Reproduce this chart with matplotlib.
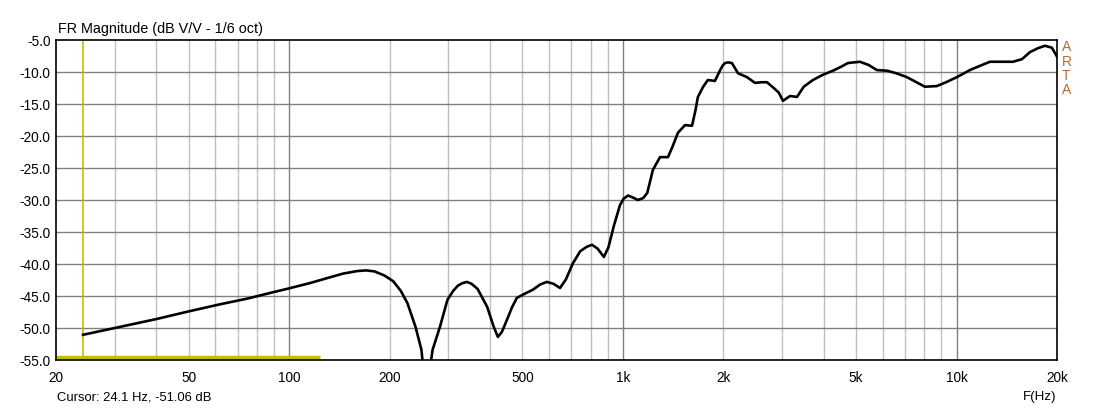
import matplotlib
matplotlib.use("Agg")
import matplotlib.pyplot as plt

# ---- data ----
freq_hz = [24.1, 30, 40, 50, 62, 75, 88, 100, 115, 130, 145, 160, 170, 180, 193, 205, 216,
           226, 239, 249, 253, 257, 262, 269, 283, 298, 310, 320, 330, 341, 352, 367, 392,
           410, 422, 434, 449, 465, 481, 510, 538, 565, 592, 620, 648, 675, 708, 745, 780,
           808, 840, 877, 905, 940, 980, 1005, 1036, 1070, 1109, 1150, 1183, 1230, 1292,
           1365, 1410, 1462, 1535, 1611, 1650, 1678, 1740, 1798, 1887, 1957, 1990, 2023,
           2070, 2122, 2213, 2354, 2488, 2600, 2704, 2832, 2930, 3018, 3170, 3324, 3484,
           3712, 3952, 4259, 4500, 4725, 5134, 5450, 5770, 6193, 6600, 7097, 8038, 8729,
           9300, 10024, 10965, 11800, 12594, 14760, 15700, 16590, 17500, 18400, 19300, 20000]
mag_db = [-51.06, -50.0, -48.6, -47.4, -46.3, -45.4, -44.5, -43.8, -43.0, -42.2, -41.5,
          -41.1, -41.0, -41.15, -41.8, -42.7, -44.2, -46.1, -49.8, -53.4, -57.0, -62.0, -57.5,
          -53.4, -49.8, -45.6, -44.2, -43.4, -43.0, -42.8, -43.1, -43.9, -46.7, -49.8, -51.4,
          -50.6, -48.75, -46.8, -45.3, -44.6, -44.0, -43.2, -42.8, -43.1, -43.75, -42.4,
          -39.9, -38.0, -37.3, -37.0, -37.6, -38.9, -37.4, -34.0, -30.8, -29.8, -29.3, -29.6,
          -30.0, -29.7, -28.9, -25.3, -23.3, -23.3, -21.6, -19.5, -18.3, -18.4, -16.0, -13.9,
          -12.3, -11.25, -11.4, -9.7, -9.0, -8.6, -8.5, -8.6, -10.2, -10.8, -11.7, -11.6,
          -11.6, -12.5, -13.2, -14.5, -13.75, -13.9, -12.3, -11.25, -10.5, -9.8, -9.2, -8.6,
          -8.4, -8.9, -9.7, -9.8, -10.2, -10.8, -12.3, -12.2, -11.6, -10.8, -9.7, -9.0, -8.4,
          -8.4, -8.0, -6.9, -6.3, -5.9, -6.2, -7.6]

x_ticks = [20, 50, 100, 200, 500, 1000, 2000, 5000, 10000, 20000]
x_tick_labels = ["20", "50", "100", "200", "500", "1k", "2k", "5k", "10k", "20k"]
y_ticks = [-5, -10, -15, -20, -25, -30, -35, -40, -45, -50, -55]

cursor_freq = 24.1
marker_level_db = -54.5
marker_end_hz = 124

title_text = "FR Magnitude (dB V/V - 1/6 oct)"
cursor_text = "Cursor: 24.1 Hz, -51.06 dB"

plt.rcParams['font.family'] = ['Liberation Sans', 'DejaVu Sans']

W, H = 1113, 408
fig = plt.figure(figsize=(W / 100, H / 100), dpi=100)
fig.patch.set_facecolor("white")
ax = fig.add_axes([56 / W, (H - 360) / H, 1001 / W, 320 / H])
ax.set_xscale("log")
ax.set_xlim(20, 20000)
ax.set_ylim(-55, -5)

# grid
minor = []
for dec in [10, 100, 1000, 10000]:
    for m in range(2, 10):
        f = dec * m
        if 20 < f < 20000:
            minor.append(f)
for f in minor:
    ax.axvline(f, color="#c0c0c0", lw=1.0, zorder=1)
for f in [100, 1000, 10000]:
    ax.axvline(f, color="#808080", lw=1.0, zorder=1.5)
for y in y_ticks[1:-1]:
    ax.axhline(y, color="#808080", lw=1.0, zorder=1.5)

# cursor markers
ax.axvline(cursor_freq, color="#c0c000", lw=1.2, zorder=2)
ax.plot([20, marker_end_hz], [marker_level_db, marker_level_db], color="#c0c000", lw=2.5,
        zorder=2, solid_capstyle="butt")

ax.plot(freq_hz, mag_db, color="black", lw=1.9, zorder=3, clip_on=True,
        solid_joinstyle="round")

ax.set_xticks(x_ticks)
ax.set_xticklabels(x_tick_labels)
ax.xaxis.set_minor_locator(matplotlib.ticker.NullLocator())
ax.set_yticks(y_ticks)
ax.set_yticklabels([f"{v:.1f}" for v in y_ticks])
ax.tick_params(axis="both", length=0, labelsize=9.8, pad=4)
ax.tick_params(axis="x", pad=8)
for s in ax.spines.values():
    s.set_color("black")
    s.set_linewidth(1.2)

fig.text(58 / W, 1 - 29 / H, title_text, fontsize=10.4, ha="left", va="center")
fig.text(57 / W, 1 - 397 / H, cursor_text, fontsize=9.4, ha="left", va="center")
fig.text(1056 / W, 1 - 397 / H, "F(Hz)", fontsize=9.6, ha="right", va="center")
for i, ch in enumerate("ARTA"):
    fig.text(1062 / W, 1 - (47 + i * 14.5) / H, ch, fontsize=10, ha="left", va="center",
             color="#b86a30")

fig.savefig("out.png", dpi=100)
